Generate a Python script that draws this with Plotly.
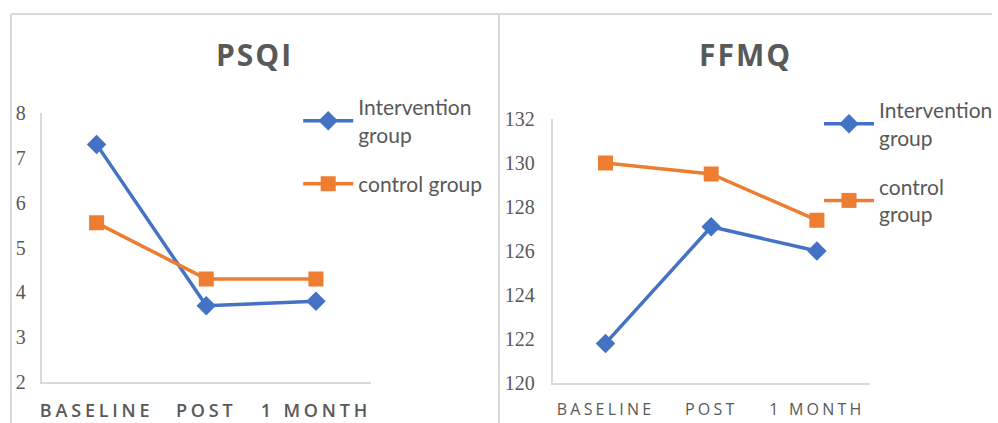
import plotly.graph_objects as go

# Measurement time points
timepoints = ["BASELINE", "POST", "1 MONTH"]

# PSQI scores
psqi_intervention = [7.3, 3.7, 3.8]
psqi_control = [5.55, 4.3, 4.3]

# FFMQ scores
ffmq_intervention = [121.8, 127.1, 126.0]
ffmq_control = [130.0, 129.5, 127.4]

BLUE = "#4472C4"
ORANGE = "#ED7D31"
GREY_TEXT = "#595959"
AXIS_GREY = "#d9d9d9"

W, H = 998, 423


def px_x(p):
    return p / W


def px_y(p):
    return 1 - p / H


fig = go.Figure()

line_w = 3.5
fig.add_trace(go.Scatter(
    x=timepoints, y=psqi_intervention, name="Intervention<br>group",
    mode="lines+markers", line=dict(color=BLUE, width=line_w),
    marker=dict(symbol="diamond", size=15, color=BLUE),
    xaxis="x", yaxis="y", legend="legend", legendgroup="a"))
fig.add_trace(go.Scatter(
    x=timepoints, y=psqi_control, name="control group",
    mode="lines+markers", line=dict(color=ORANGE, width=line_w),
    marker=dict(symbol="square", size=15, color=ORANGE),
    xaxis="x", yaxis="y", legend="legend", legendgroup="b"))
fig.add_trace(go.Scatter(
    x=timepoints, y=ffmq_intervention, name="Intervention<br>group",
    mode="lines+markers", line=dict(color=BLUE, width=line_w),
    marker=dict(symbol="diamond", size=15, color=BLUE),
    xaxis="x2", yaxis="y2", legend="legend2", legendgroup="c"))
fig.add_trace(go.Scatter(
    x=timepoints, y=ffmq_control, name="control<br>group",
    mode="lines+markers", line=dict(color=ORANGE, width=line_w),
    marker=dict(symbol="square", size=15, color=ORANGE),
    xaxis="x2", yaxis="y2", legend="legend2", legendgroup="d"))

xaxis_common = dict(
    type="category", range=[-0.5, 2.5], showline=True, linecolor=AXIS_GREY,
    linewidth=2, showgrid=False, zeroline=False, ticks="", automargin=False,
    ticklabelstandoff=11, fixedrange=True)
yaxis_common = dict(
    showline=True, linecolor=AXIS_GREY, linewidth=2, showgrid=False,
    zeroline=False, ticks="", automargin=False,
    tickfont=dict(family="Liberation Serif", size=20, color=GREY_TEXT),
    fixedrange=True)

legend_common = dict(
    font=dict(family="Lato", size=21, color=GREY_TEXT),
    bgcolor="rgba(0,0,0,0)", traceorder="grouped", tracegroupgap=19,
    itemwidth=50, yanchor="top", xanchor="left")

fig.update_layout(
    width=W, height=H, margin=dict(l=0, r=0, t=0, b=0),
    paper_bgcolor="white", plot_bgcolor="white",
    xaxis=dict(xaxis_common, domain=[px_x(42), px_x(373)], anchor="y",
               tickfont=dict(family="Open Sans", size=18, weight=600,
                             color=GREY_TEXT)),
    yaxis=dict(yaxis_common, domain=[px_y(382), px_y(113)], range=[2, 8],
               dtick=1, anchor="x", ticklabelstandoff=10),
    xaxis2=dict(xaxis_common, domain=[px_x(556), px_x(875)], anchor="y2",
                tickfont=dict(family="Open Sans", size=16, color=GREY_TEXT)),
    yaxis2=dict(yaxis_common, domain=[px_y(383), px_y(119)], range=[120, 132],
                dtick=2, anchor="x2", ticklabelstandoff=12),
    legend=dict(legend_common, x=px_x(300), y=px_y(87)),
    legend2=dict(legend_common, x=px_x(824), y=px_y(90)),
    showlegend=True,
)

# Chart titles
for title, cx in (("PSQI", 256), ("FFMQ", 750)):
    fig.add_annotation(text="<b>" + title + "</b>", x=px_x(cx), y=px_y(55),
                       xref="paper", yref="paper", showarrow=False,
                       xanchor="center", yanchor="middle",
                       font=dict(family="Open Sans", size=30, color=GREY_TEXT))

# Chart-area frames
frame = dict(color=AXIS_GREY, width=2)
fig.add_shape(type="line", xref="paper", yref="paper", x0=px_x(11), x1=1,
              y0=px_y(14), y1=px_y(14), line=frame)
fig.add_shape(type="line", xref="paper", yref="paper", x0=px_x(11), x1=px_x(11),
              y0=px_y(14), y1=0, line=frame)
fig.add_shape(type="line", xref="paper", yref="paper", x0=px_x(502), x1=px_x(502),
              y0=px_y(14), y1=0, line=frame)

# Wide tracking on the category labels and titles
spacing_js = """
var gd = document.getElementsByClassName('plotly-graph-div')[0];
function track() {
  gd.querySelectorAll('.xtick text').forEach(function (t) {
    t.style.letterSpacing = '3.8px';
  });
  gd.querySelectorAll('.x2tick text').forEach(function (t) {
    t.style.letterSpacing = '3.2px';
  });
  gd.querySelectorAll('.annotation-text').forEach(function (t) {
    t.style.letterSpacing = '2px';
  });
}
track();
gd.on('plotly_afterplot', track);
"""

fig.write_html("out.html", post_script=spacing_js)
